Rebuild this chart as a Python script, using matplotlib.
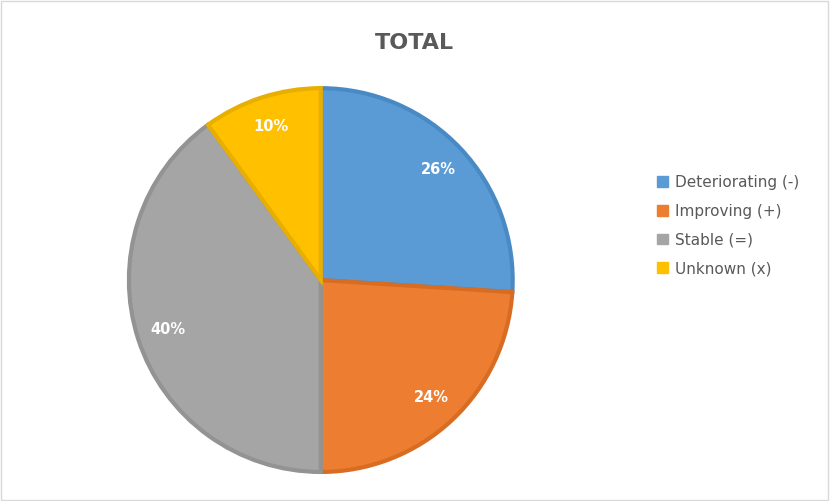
import matplotlib
matplotlib.use('Agg')
import matplotlib.pyplot as plt
from matplotlib.patches import Patch

labels = ['Deteriorating (-)', 'Improving (+)', 'Stable (=)', 'Unknown (x)']
values = [26, 24, 40, 10]
colors = ['#5B9BD5', '#ED7D31', '#A5A5A5', '#FFC000']
edges = ['#4A8AC4', '#D86C22', '#939393', '#E8AE00']

fig = plt.figure(figsize=(8.3, 5.01), dpi=100)
fig.patches.append(plt.Rectangle((0.001, 0.002), 0.997, 0.996, transform=fig.transFigure,
                                 fill=False, edgecolor='#D9D9D9', linewidth=1))
ax = fig.add_axes([0.155, 0.058, 0.463, 0.766])
wedges, texts = ax.pie(values, colors=colors, startangle=90, counterclock=False,
                       wedgeprops=dict(linewidth=3))
for w, ec in zip(wedges, edges):
    w.set_edgecolor(ec)
import numpy as np
ang = 90
for v in values:
    mid = np.deg2rad(ang - v * 3.6 / 2)
    ax.text(0.84 * np.cos(mid), 0.84 * np.sin(mid), f'{v}%', ha='center', va='center',
            color='white', fontsize=10.5, fontweight='bold')
    ang -= v * 3.6
ax.set_xlim(-1, 1)
ax.set_ylim(-1, 1)
ax.set_aspect('equal')

fig.text(0.499, 0.915, 'TOTAL', ha='center', va='center', fontsize=16,
         fontweight='bold', color='#595959')
handles = [Patch(facecolor=c, edgecolor=c) for c in colors]
fig.legend(handles, labels, loc='center left', bbox_to_anchor=(0.775, 0.55),
           frameon=False, fontsize=11, handlelength=0.7, handleheight=0.7,
           labelspacing=0.9, handletextpad=0.5, labelcolor='#595959')
fig.savefig('out.png', dpi=100)
